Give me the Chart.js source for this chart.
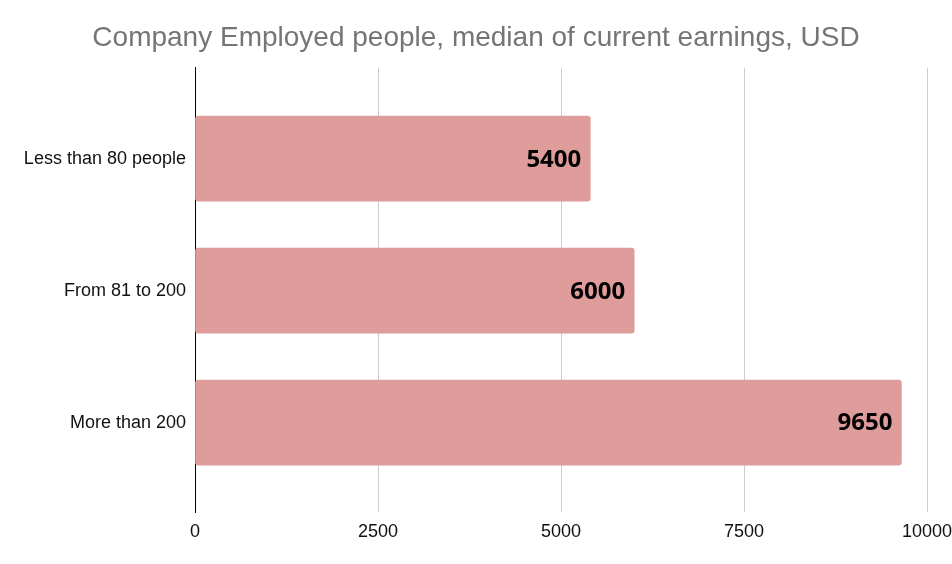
<!DOCTYPE html>
<html lang="en">
<head>
<meta charset="UTF-8">
<title>Company Employed people</title>
<script src="https://cdn.jsdelivr.net/npm/chart.js"></script>
<style>
  body { margin: 0; background: #fff; }
  #wrap { width: 952px; height: 564px; position: relative; }
</style>
</head>
<body>
<div id="wrap"><canvas id="chart"></canvas></div>
<script>
const categories = ['Less than 80 people', 'From 81 to 200', 'More than 200']
const earnings = [5400, 6000, 9650]
const xMin = 0
const xMax = 10000
const xStep = 2500

// draw the value inside the end of each bar
const valueLabels = {
    id: 'valueLabels',
    afterDatasetsDraw(chart) {
        const ctx = chart.ctx
        const meta = chart.getDatasetMeta(0)
        ctx.save()
        ctx.font = 'bold 24px "Open Sans"'
        ctx.fillStyle = '#000'
        ctx.textAlign = 'right'
        ctx.textBaseline = 'middle'
        meta.data.forEach((bar, i) => {
            ctx.fillText(String(earnings[i]), bar.x - 9, bar.y + 1)
        })
        ctx.restore()
    }
}

new Chart(document.getElementById('chart'), {
    type: 'bar',
    data: {
        datasets: [{
            data: earnings.map((v, i) => ({ x: v, y: i })),
            backgroundColor: '#de9d9b',
            barThickness: 85,
            borderRadius: 3,
            borderSkipped: false
        }]
    },
    options: {
        indexAxis: 'y',
        responsive: true,
        maintainAspectRatio: false,
        animation: false,
        layout: { padding: { left: 0, right: 0, top: 0, bottom: 12 } },
        plugins: {
            legend: { display: false },
            tooltip: { enabled: false },
            title: {
                display: true,
                text: 'Company Employed people, median of current earnings, USD',
                color: '#757575',
                font: { family: 'Arial, "Liberation Sans"', size: 28, weight: 'normal' },
                padding: { top: 21, bottom: 13 }
            }
        },
        scales: {
            x: {
                type: 'linear',
                min: xMin,
                max: xMax,
                afterFit(scale) { scale.paddingRight = 25 },
                ticks: {
                    stepSize: xStep,
                    color: '#111',
                    padding: 9,
                    font: { family: 'Arial, "Liberation Sans"', size: 18 },
                    callback: (v) => String(v)
                },
                grid: { color: '#cccccc', lineWidth: 1, drawTicks: false },
                border: { display: false }
            },
            y: {
                type: 'linear',
                offset: false,
                reverse: true,
                min: -0.69,
                max: 2.68,
                afterFit(scale) { scale.width = 195 },
                ticks: {
                    stepSize: 1,
                    autoSkip: false,
                    color: '#111',
                    padding: 9,
                    font: { family: 'Arial, "Liberation Sans"', size: 18 },
                    callback: (v) => Number.isInteger(v) && categories[v] !== undefined ? categories[v] : ''
                },
                grid: { display: false, drawTicks: false, offset: false },
                border: { display: true, color: '#000', width: 1 }
            }
        }
    },
    plugins: [valueLabels]
})
</script>
</body>
</html>
